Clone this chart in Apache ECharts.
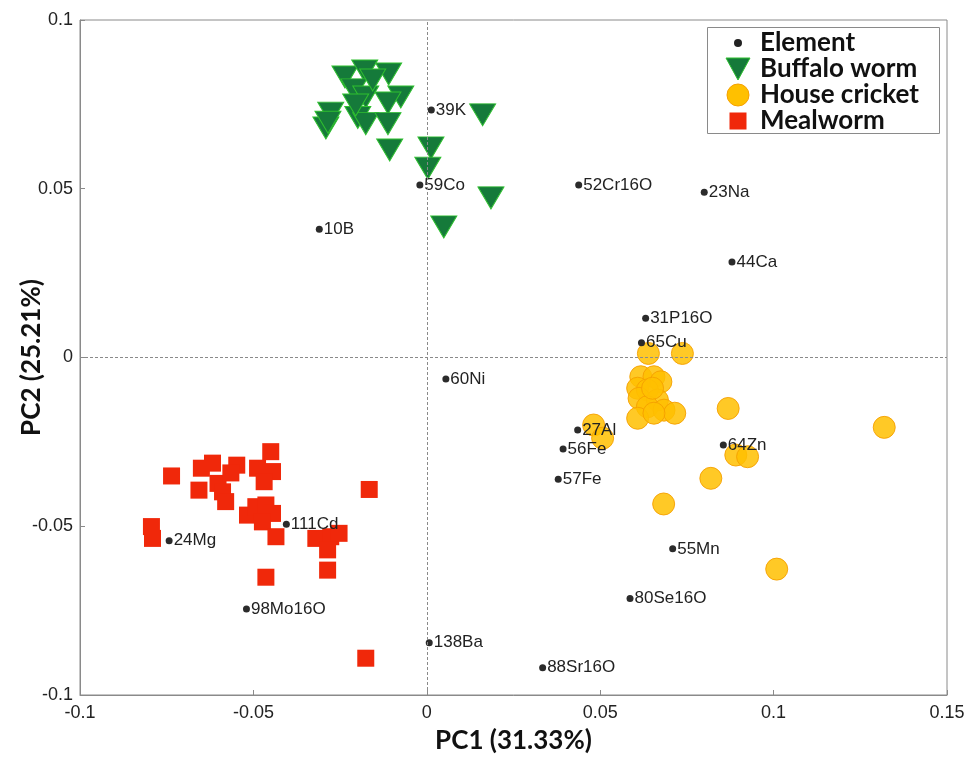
<!DOCTYPE html>
<html>
<head>
<meta charset="utf-8">
<script src="https://cdn.jsdelivr.net/npm/echarts@6/dist/echarts.min.js"></script>
<style>
html,body{margin:0;padding:0;background:#fff;}
#c{width:976px;height:757px;}
</style>
</head>
<body>
<div id="c"></div>
<script>
// ---- data ----
const xTicks = [-0.1, -0.05, 0, 0.05, 0.1, 0.15];
const yTicks = [-0.1, -0.05, 0, 0.05, 0.1];

const elementNames = ['39K','59Co','10B','52Cr16O','23Na','44Ca','31P16O','65Cu','60Ni','27Al','56Fe','57Fe','64Zn','55Mn','80Se16O','138Ba','88Sr16O','111Cd','24Mg','98Mo16O'];
const elementPC1 = [0.0013,-0.0020,-0.0310,0.0438,0.0800,0.0880,0.0631,0.0619,0.0055,0.0435,0.0393,0.0379,0.0855,0.0709,0.0586,0.0007,0.0334,-0.0405,-0.0743,-0.0520];
const elementPC2 = [0.0733,0.0511,0.0380,0.0511,0.0490,0.0283,0.0116,0.0044,-0.0064,-0.0215,-0.0271,-0.0361,-0.0259,-0.0567,-0.0714,-0.0845,-0.0919,-0.0494,-0.0543,-0.0745];

const buffaloPC1 = [-0.0236,-0.0179,-0.0110,-0.0210,-0.0176,-0.0075,-0.0112,-0.0277,-0.0291,-0.0285,-0.0199,-0.0176,-0.0112,-0.0107,0.0012,0.0003,0.0161,0.0185,0.0049,-0.0156,-0.0205];
const buffaloPC2 = [0.0831,0.0849,0.0840,0.0793,0.0772,0.0772,0.0754,0.0724,0.0680,0.0697,0.0711,0.0693,0.0693,0.0615,0.0621,0.0561,0.0719,0.0473,0.0387,0.0822,0.0748];

const cricketPC1 = [0.0639,0.0737,0.0617,0.0655,0.0675,0.0608,0.0636,0.0612,0.0665,0.0636,0.0684,0.0715,0.0608,0.0655,0.0869,0.1319,0.0481,0.0507,0.0891,0.0925,0.0819,0.0683,0.1009,0.0651];
const cricketPC2 = [0.0012,0.0012,-0.0057,-0.0057,-0.0072,-0.0091,-0.0096,-0.0121,-0.0126,-0.0146,-0.0156,-0.0165,-0.0180,-0.0165,-0.0151,-0.0207,-0.0200,-0.0239,-0.0289,-0.0294,-0.0358,-0.0434,-0.0627,-0.0091];

const mealPC1 = [-0.0450,-0.0736,-0.0650,-0.0618,-0.0548,-0.0488,-0.0445,-0.0469,-0.0657,-0.0602,-0.0589,-0.0580,-0.0166,-0.0517,-0.0493,-0.0464,-0.0445,-0.0474,-0.0435,-0.0794,-0.0791,-0.0320,-0.0277,-0.0286,-0.0253,-0.0286,-0.0464,-0.0176,-0.0565];
const mealPC2 = [-0.0279,-0.0351,-0.0328,-0.0313,-0.0319,-0.0328,-0.0338,-0.0368,-0.0393,-0.0373,-0.0398,-0.0427,-0.0391,-0.0467,-0.0442,-0.0437,-0.0462,-0.0487,-0.0531,-0.0501,-0.0536,-0.0536,-0.0531,-0.0570,-0.0521,-0.0630,-0.0651,-0.0891,-0.0342];

const seriesNames = ['Element','Buffalo worm','House cricket','Mealworm'];
const axisNames = ['PC1 (31.33%)','PC2 (25.21%)'];

// ---- build ----
const zip = (a,b,c) => a.map((v,i)=> c ? [v,b[i],c[i]] : [v,b[i]]);
const TRI = 'path://M0,0L20,0L10,17.5Z';
const fmt = v => String(+(+v).toFixed(2));
const svgIcon = inner => 'image://data:image/svg+xml;charset=utf-8,' +
  encodeURIComponent("<svg xmlns='http://www.w3.org/2000/svg' width='34' height='25' viewBox='0 0 34 25'>" + inner + "</svg>");
const icons = [
  svgIcon("<circle cx='17' cy='12.5' r='4' fill='#222'/>"),
  svgIcon("<polygon points='5,1.5 29,1.5 17,23.5' fill='#157a3a' stroke='#2fbf2f' stroke-width='1'/>"),
  svgIcon("<circle cx='17' cy='12.5' r='11' fill='#ffc000' stroke='#f5a000' stroke-width='1'/>"),
  svgIcon("<rect x='8.5' y='4' width='17' height='17' fill='#f0280a'/>")
];
const boldFont = {fontFamily:'Lato', fontWeight:'bold', fontSize:26, color:'#111'};

const chart = echarts.init(document.getElementById('c'), null, {renderer:'canvas'});
chart.setOption({
  animation:false,
  backgroundColor:'#fff',
  grid:{left:80, right:29, top:20, bottom:62, containLabel:false, outerBoundsMode:'none',
    show:true, borderColor:'#8a8a8a', borderWidth:1, backgroundColor:'transparent'},
  xAxis:{
    type:'value', min:xTicks[0], max:xTicks[xTicks.length-1], interval:0.05,
    name:axisNames[0], nameLocation:'middle', nameGap:33,
    nameTextStyle:boldFont,
    axisLine:{onZero:false, lineStyle:{color:'#8a8a8a'}},
    axisTick:{inside:true, length:5, lineStyle:{color:'#8a8a8a'}},
    axisLabel:{formatter:fmt, fontFamily:'Liberation Sans', fontSize:18, color:'#222', margin:9},
    splitLine:{show:false}
  },
  yAxis:{
    type:'value', min:yTicks[0], max:yTicks[yTicks.length-1], interval:0.05,
    name:axisNames[1], nameLocation:'middle', nameGap:35, nameRotate:90, nameMoveOverlap:false,
    nameTextStyle:boldFont,
    axisLine:{onZero:false, lineStyle:{color:'#8a8a8a'}},
    axisTick:{inside:true, length:5, lineStyle:{color:'#8a8a8a'}},
    axisLabel:{formatter:fmt, fontFamily:'Liberation Sans', fontSize:18, color:'#222', margin:7},
    splitLine:{show:false}
  },
  graphic:[{type:'rect', left:707, top:27, z:90, shape:{width:232, height:106}, style:{fill:'#fff', stroke:'#8a8a8a', lineWidth:1}}],
  legend:{
    orient:'vertical', left:721, top:30, padding:0, itemGap:0,
    itemWidth:34, itemHeight:25,
    data:seriesNames.map((n,i)=>({name:n, icon:icons[i]})),
    textStyle:Object.assign({lineHeight:25}, boldFont), z:100
  },
  series:[
    {
      name:seriesNames[1], type:'scatter', symbol:TRI, symbolSize:[26,22], z:3,
      itemStyle:{color:'#157a3a', borderColor:'#2fbf2f', borderWidth:1, opacity:1},
      data:zip(buffaloPC1, buffaloPC2),
      markLine:{silent:true, symbol:'none', label:{show:false}, animation:false,
        lineStyle:{color:'#8a8a8a', type:[3,2], width:1},
        data:[{xAxis:0},{yAxis:0}]}
    },
    {
      name:seriesNames[2], type:'scatter', symbol:'circle', symbolSize:22, z:3,
      itemStyle:{color:'rgba(255,192,0,0.85)', borderColor:'rgba(245,160,0,0.9)', borderWidth:1, opacity:1},
      data:zip(cricketPC1, cricketPC2)
    },
    {
      name:seriesNames[3], type:'scatter', symbol:'rect', symbolSize:17, z:3,
      itemStyle:{color:'#f0280a', opacity:1},
      data:zip(mealPC1, mealPC2)
    },
    {
      name:seriesNames[0], type:'scatter', symbol:'circle', symbolSize:7, z:4,
      itemStyle:{color:'#2b2b2b', opacity:1},
      label:{show:true, position:'right', distance:1, formatter:p=>p.data[2],
        fontFamily:'Liberation Sans', fontSize:17, color:'#222'},
      data:zip(elementPC1, elementPC2, elementNames)
    }
  ]
});
</script>
</body>
</html>
